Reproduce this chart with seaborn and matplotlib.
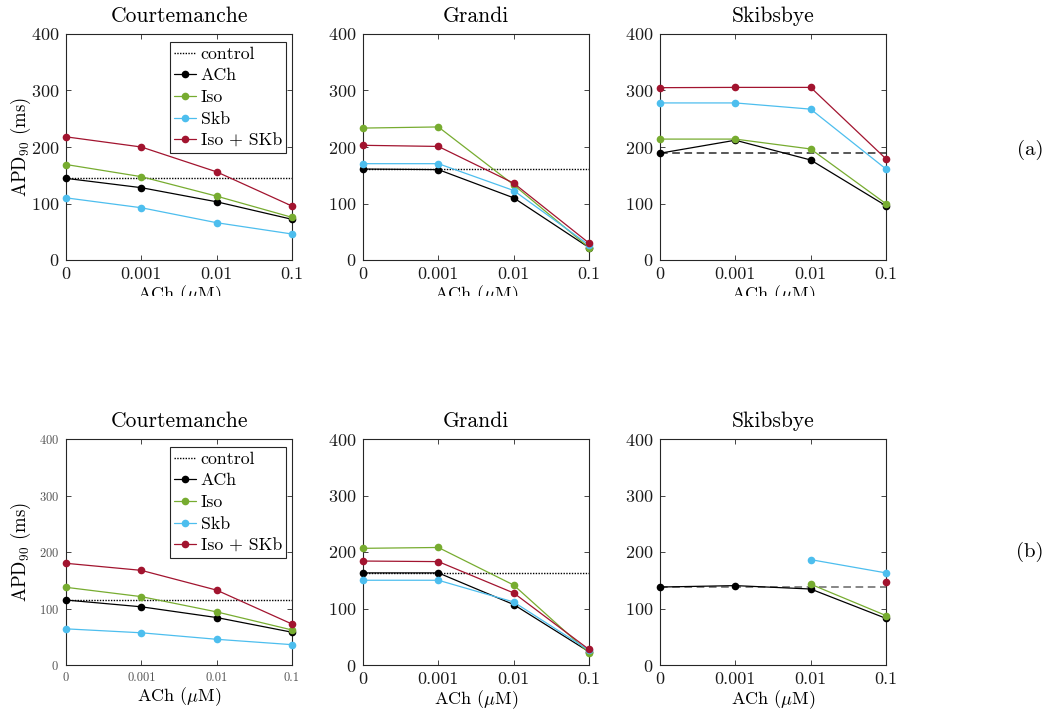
import numpy as np
import pandas as pd
import matplotlib
matplotlib.use("Agg")
import matplotlib.pyplot as plt
import seaborn as sns
from matplotlib.lines import Line2D
from matplotlib.patches import Rectangle

# ACh concentrations (categorical axis) and conditions
ach_labels = ["0", "0.001", "0.01", "0.1"]
conditions = ["ACh", "Iso", "Skb", "Iso + SKb"]
models = ["Courtemanche", "Grandi", "Skibsbye"]
colors = ["#000000", "#77AC30", "#4DBEEE", "#A2142F"]

# APD90 (ms), rows: ACh, Iso, Skb, Iso + SKb -- scenario (a)
court_a = [[144.5, 128, 103, 72],
           [169, 147.5, 113, 75.5],
           [110, 92.5, 66, 46],
           [218, 200, 156, 95.5]]
grandi_a = [[161, 160, 110, 22],
            [233.5, 235.5, 133, 22],
            [170.5, 170.5, 123, 26.5],
            [203, 201, 136, 30]]
skibs_a = [[189, 212, 177, 96],
           [214, 214, 196.5, 99.5],
           [278, 278, 267, 161],
           [305, 305.5, 305.5, 179]]
control_a = [145, 161.5, 189]

# scenario (b)
court_b = [[115, 103, 84, 58],
           [137.5, 121, 94, 62],
           [64, 57, 45.5, 36],
           [180, 167.5, 132.5, 72.5]]
grandi_b = [[163, 163, 107, 23.5],
            [206.5, 208, 141.5, 21.5],
            [150, 150, 111.5, 26],
            [184, 183, 127.5, 27.5]]
skibs_b = [[138, 140.5, 134.5, 82.5],
           [np.nan, np.nan, 143, 87.5],
           [np.nan, np.nan, 186.5, 163],
           [np.nan, np.nan, np.nan, 146.5]]
control_b = [115, 163, 138.5]

sns.set_style("ticks")
plt.rcParams["font.family"] = ["cmr10"]
plt.rcParams["mathtext.fontset"] = "cm"
plt.rcParams["axes.formatter.use_mathtext"] = True
plt.rcParams["text.color"] = "black"
plt.rcParams["axes.labelcolor"] = "black"

fig = plt.figure(figsize=(10.56, 7.19), dpi=100)

lefts = [66 / 1056, 363 / 1056, 660 / 1056]
width = 226 / 1056
rows = [(1 - 260 / 719, 226 / 719), (1 - 665 / 719, 226 / 719)]

panel_data = [[court_a, grandi_a, skibs_a], [court_b, grandi_b, skibs_b]]
controls = [control_a, control_b]


def to_frame(values):
    recs = []
    for cond, series in zip(conditions, values):
        for pos, v in enumerate(series):
            recs.append({"pos": pos, "apd": v, "cond": cond})
    return pd.DataFrame(recs).dropna()


for r, (bottom, height) in enumerate(rows):
    for c, model in enumerate(models):
        ax = fig.add_axes([lefts[c], bottom, width, height])
        ctrl = controls[r][c]
        if c < 2:
            ax.axhline(ctrl, color="black", lw=1.0, ls=(0, (1, 1)), zorder=1)
        else:
            ax.axhline(ctrl, color="#2a2a2a" if r == 0 else "#666666",
                       lw=1.1, ls=(0, (5, 3)), zorder=1)
        df = to_frame(panel_data[r][c])
        sns.lineplot(data=df, x="pos", y="apd", hue="cond",
                     hue_order=conditions, palette=colors, marker="o",
                     markersize=5.5, markeredgewidth=0, linewidth=0.9,
                     estimator=None, errorbar=None, legend=False,
                     clip_on=False, ax=ax, zorder=3)
        ax.set_xlim(0, 3)
        ax.set_ylim(0, 400)
        ax.set_xticks(range(4))
        ax.set_xticklabels(ach_labels)
        ax.set_yticks([0, 100, 200, 300, 400])
        ax.set_title(model, fontsize=15.5, pad=9, color="black")
        for sp in ax.spines.values():
            sp.set_visible(True)
            sp.set_color("#262626")
            sp.set_linewidth(0.8)
        small = (r == 1 and c == 0)
        ax.tick_params(direction="in", top=True, right=True, length=3.5,
                       width=0.6, labelsize=9 if small else 13,
                       labelcolor="#555555" if small else "#1a1a1a", pad=5)
        ax.set_xlabel(r"ACh ($\mu$M)", fontsize=13, labelpad=1)
        if c == 0:
            ax.set_ylabel(r"APD$_{90}$ (ms)", fontsize=13.5)
            ax.yaxis.set_label_coords(-0.145, 0.5)
            handles = [Line2D([], [], color="black", lw=1.0, ls=(0, (1, 1)))]
            for col in colors:
                handles.append(Line2D([], [], color=col, lw=0.9, marker="o",
                                      markersize=5.5, markeredgewidth=0))
            leg = ax.legend(handles, ["control"] + conditions,
                            loc="upper right", bbox_to_anchor=(0.975, 0.965),
                            borderaxespad=0, fontsize=12.8, fancybox=False,
                            framealpha=1, edgecolor="#262626",
                            handlelength=1.25, handletextpad=0.25,
                            labelspacing=0.35, borderpad=0.25)
            leg.get_frame().set_linewidth(0.8)
        else:
            ax.set_ylabel("")

fig.text(1030 / 1056, 1 - 150 / 719, "(a)", fontsize=15, ha="center", va="center")
fig.text(1030 / 1056, 1 - 552 / 719, "(b)", fontsize=15, ha="center", va="center")

# white band across the gap between the two rows
fig.add_artist(Rectangle((0, 1 - 400 / 719), 1, 104 / 719,
                         transform=fig.transFigure, facecolor="white",
                         edgecolor="none", zorder=10))

fig.savefig("out.png", dpi=100)
